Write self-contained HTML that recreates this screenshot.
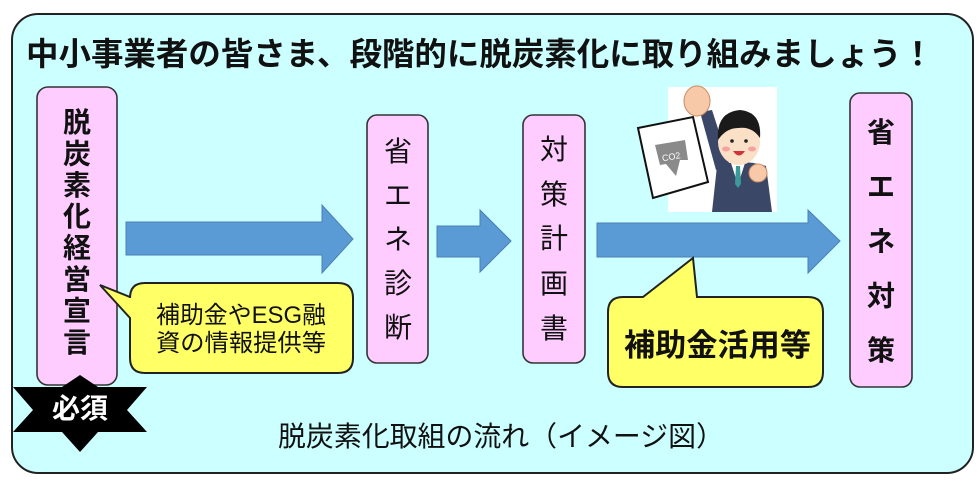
<!DOCTYPE html>
<html><head><meta charset="utf-8">
<style>
html,body{margin:0;padding:0;background:#fff;}
body{width:980px;height:487px;overflow:hidden;}
svg{display:block;}
text{font-family:"Liberation Sans","Noto Sans CJK JP",sans-serif;fill:#111;}
.b{font-weight:bold;}
</style></head>
<body>
<svg width="980" height="487" viewBox="0 0 980 487" xmlns="http://www.w3.org/2000/svg">
  <rect x="12" y="14" width="961" height="459" rx="26" ry="26" fill="#ccffff" stroke="#222" stroke-width="2"/>
  <text x="26" y="65" font-size="32" class="b" textLength="908" lengthAdjust="spacingAndGlyphs">中小事業者の皆さま、段階的に脱炭素化に取り組みましょう！</text>

  <!-- box 1 -->
  <rect x="37" y="87" width="80" height="298" rx="11" fill="#ffccff" stroke="#333" stroke-width="1.6"/>
  <g font-size="28" class="b" text-anchor="middle">
    <text x="77" y="132" class="b">脱</text>
    <text x="77" y="163.4" class="b">炭</text>
    <text x="77" y="194.8" class="b">素</text>
    <text x="77" y="226.2" class="b">化</text>
    <text x="77" y="257.6" class="b">経</text>
    <text x="77" y="289" class="b">営</text>
    <text x="77" y="320.4" class="b">宣</text>
    <text x="77" y="351.8" class="b">言</text>
  </g>

  <!-- star -->
  <polygon points="80,375 62,387 13,387 33,410 13,432 62,432 80,452 98,432 147,432 127,410 147,387 98,387" fill="#000"/>
  <text x="80" y="418" font-size="28" class="b" text-anchor="middle" style="fill:#fff">必須</text>

  <!-- arrows -->
  <g fill="#5b9bd5" stroke="#4a7fb5" stroke-width="1">
    <polygon points="126,222 322,222 322,205 353,239 322,273 322,255 126,255"/>
    <polygon points="437,226 480,226 480,210 511,241 480,272 480,257 437,257"/>
    <polygon points="597,223 808,223 808,210 840,241 808,273 808,257 597,257"/>
  </g>

  <!-- bubble 1 -->
  <path d="M145,283 H338 Q353,283 353,298 V358 Q353,373 338,373 H145 Q130,373 130,358 V318 L100,285 L130,297 V298 Q130,283 145,283 Z" fill="#ffff66" stroke="#222" stroke-width="2"/>
  <text x="156" y="323" font-size="24" textLength="170" lengthAdjust="spacingAndGlyphs">補助金やESG融</text>
  <text x="156" y="351" font-size="24" textLength="170" lengthAdjust="spacingAndGlyphs">資の情報提供等</text>

  <!-- box 2 -->
  <rect x="367" y="115" width="61" height="248" rx="10" fill="#ffccff" stroke="#333" stroke-width="1.6"/>
  <g font-size="28" text-anchor="middle">
    <text x="398" y="161">省</text>
    <text x="398" y="205">エ</text>
    <text x="398" y="249">ネ</text>
    <text x="398" y="293">診</text>
    <text x="398" y="337">断</text>
  </g>

  <!-- box 3 -->
  <rect x="523" y="115" width="62" height="248" rx="10" fill="#ffccff" stroke="#333" stroke-width="1.6"/>
  <g font-size="28" text-anchor="middle">
    <text x="554" y="159">対</text>
    <text x="554" y="204">策</text>
    <text x="554" y="248">計</text>
    <text x="554" y="293">画</text>
    <text x="554" y="338">書</text>
  </g>

  <!-- box 4 -->
  <rect x="850" y="93" width="62" height="294" rx="10" fill="#ffccff" stroke="#333" stroke-width="1.6"/>
  <g font-size="28" text-anchor="middle">
    <text x="881" y="142" class="b">省</text>
    <text x="881" y="196.5" class="b">エ</text>
    <text x="881" y="251" class="b">ネ</text>
    <text x="881" y="305.5" class="b">対</text>
    <text x="881" y="360" class="b">策</text>
  </g>

  <!-- bubble 2 -->
  <path d="M623,297 H643 L693,258 L697,297 H808 Q823,297 823,312 V372 Q823,387 808,387 H623 Q608,387 608,372 V312 Q608,297 623,297 Z" fill="#ffff66" stroke="#222" stroke-width="2"/>
  <text x="624" y="356" font-size="31" class="b" textLength="187" lengthAdjust="spacingAndGlyphs">補助金活用等</text>

  <!-- illustration -->
  <rect x="668" y="87" width="109" height="125" fill="#fff"/>
  <polygon points="638,128 693,117 708,182 653,198" fill="#fff" stroke="#111" stroke-width="2"/>
  <polygon points="655,145 685,140 688,160 680,160 676,176 666,164 660,165" fill="#8a8a8a"/>
  <text x="662" y="160" font-size="9" style="fill:#fff" transform="rotate(-10 670 157)">CO2</text>
  <!-- body -->
  <path d="M717,166 Q740,158 766,166 L772,212 L712,212 Z" fill="#3b4766"/>
  <polygon points="731,163 745,163 738,185" fill="#fff"/>
  <polygon points="736,166 740,166 741,184 738,188 735,184" fill="#3a9a9a"/>
  <!-- raised arm -->
  <path d="M700,112 L712,110 L730,166 L716,170 Z" fill="#3b4766"/>
  <ellipse cx="697" cy="101" rx="13" ry="15" fill="#f7c9a8" stroke="#c98b63" stroke-width="1"/>
  <!-- head -->
  <ellipse cx="739" cy="142" rx="21" ry="23" fill="#fbe0c8"/>
  <path d="M718,140 Q716,112 740,110 Q762,112 760,138 Q752,126 738,128 Q726,128 718,140 Z" fill="#1a1a1a"/>
  <circle cx="732" cy="141" r="1.8" fill="#222"/>
  <circle cx="746" cy="141" r="1.8" fill="#222"/>
  <ellipse cx="726" cy="149" rx="4" ry="2.5" fill="#f4a3a3"/>
  <ellipse cx="752" cy="149" rx="4" ry="2.5" fill="#f4a3a3"/>
  <path d="M733,151 Q739,160 745,151 Z" fill="#d0343a"/>
  <circle cx="758" cy="173" r="9" fill="#f7c9a8" stroke="#c98b63" stroke-width="1"/>

  <!-- caption -->
  <text x="278" y="446" font-size="28" textLength="446" lengthAdjust="spacingAndGlyphs">脱炭素化取組の流れ（イメージ図）</text>
</svg>
</body></html>
